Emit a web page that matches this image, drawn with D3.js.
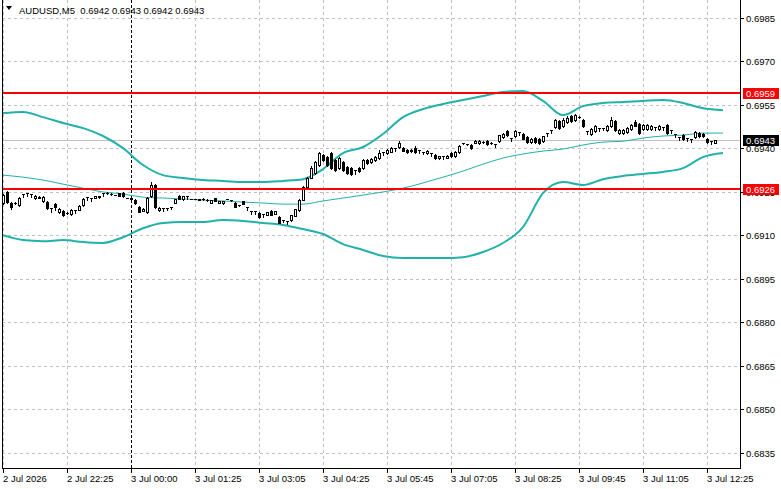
<!DOCTYPE html>
<html>
<head>
<meta charset="utf-8">
<script src="https://cdn.jsdelivr.net/npm/d3@7"></script>
<style>
    body { margin: 0; background: #fff; }
    svg { display: block; }
    text { font-family: "Liberation Sans", Arial, sans-serif; font-size: 9.5px; }
</style>
</head>
<body>
<div id="chart"></div>
<script>
// AUDUSD M5 bars (oldest first)
const opens = [
    0.69212,0.69250,0.69212,0.69212,0.69205,0.69243,0.69246,0.69243,0.69229,0.69229,
    0.69219,0.69215,0.69194,0.69208,0.69181,0.69184,0.69177,0.69174,0.69188,0.69188,
    0.69205,0.69232,0.69229,0.69229,0.69232,0.69246,0.69246,0.69243,0.69239,0.69246,
    0.69246,0.69229,0.69229,0.69222,0.69198,0.69184,0.69181,0.69236,0.69274,0.69188,
    0.69194,0.69194,0.69198,0.69212,0.69236,0.69226,0.69236,0.69226,0.69226,0.69222,
    0.69226,0.69222,0.69212,0.69229,0.69212,0.69212,0.69226,0.69222,0.69212,0.69205,
    0.69219,0.69198,0.69184,0.69184,0.69177,0.69174,0.69170,0.69184,0.69174,0.69163,
    0.69153,0.69150,0.69153,0.69167,0.69188,0.69222,0.69267,0.69298,0.69315,0.69343,
    0.69377,0.69370,0.69384,0.69360,0.69332,0.69353,0.69336,0.69332,0.69326,0.69332,
    0.69332,0.69360,0.69353,0.69360,0.69367,0.69388,0.69384,0.69388,0.69401,0.69405,
    0.69401,0.69395,0.69391,0.69401,0.69395,0.69388,0.69384,0.69384,0.69377,0.69367,
    0.69374,0.69367,0.69384,0.69374,0.69388,0.69419,0.69415,0.69412,0.69419,0.69419,
    0.69422,0.69425,0.69419,0.69415,0.69425,0.69439,0.69460,0.69436,0.69443,0.69457,
    0.69450,0.69439,0.69422,0.69436,0.69432,0.69425,0.69453,0.69464,0.69474,0.69495,
    0.69477,0.69491,0.69512,0.69498,0.69508,0.69498,0.69460,0.69450,0.69460,0.69470,
    0.69470,0.69464,0.69477,0.69495,0.69453,0.69453,0.69457,0.69467,0.69491,0.69484,
    0.69467,0.69467,0.69467,0.69474,0.69467,0.69474,0.69481,0.69464,0.69450,0.69439,
    0.69446,0.69436,0.69432,0.69439,0.69453,0.69450,0.69432,0.69425,0.69420
];
const highs = [
    0.69243,0.69253,0.69215,0.69215,0.69232,0.69243,0.69246,0.69243,0.69239,0.69236,
    0.69236,0.69219,0.69194,0.69212,0.69194,0.69188,0.69181,0.69191,0.69188,0.69205,
    0.69229,0.69232,0.69229,0.69236,0.69236,0.69246,0.69250,0.69246,0.69239,0.69246,
    0.69250,0.69229,0.69229,0.69226,0.69201,0.69194,0.69232,0.69284,0.69277,0.69198,
    0.69194,0.69194,0.69198,0.69226,0.69239,0.69236,0.69236,0.69226,0.69226,0.69226,
    0.69229,0.69226,0.69222,0.69229,0.69219,0.69219,0.69226,0.69222,0.69215,0.69205,
    0.69219,0.69198,0.69184,0.69184,0.69181,0.69174,0.69181,0.69188,0.69184,0.69167,
    0.69153,0.69150,0.69170,0.69191,0.69226,0.69270,0.69301,0.69339,0.69357,0.69388,
    0.69381,0.69374,0.69388,0.69363,0.69370,0.69357,0.69339,0.69336,0.69326,0.69336,
    0.69363,0.69363,0.69367,0.69374,0.69395,0.69388,0.69398,0.69405,0.69401,0.69425,
    0.69405,0.69398,0.69398,0.69408,0.69395,0.69388,0.69395,0.69384,0.69381,0.69374,
    0.69374,0.69377,0.69388,0.69391,0.69412,0.69419,0.69415,0.69415,0.69429,0.69429,
    0.69425,0.69429,0.69422,0.69415,0.69446,0.69453,0.69464,0.69436,0.69464,0.69457,
    0.69453,0.69443,0.69436,0.69439,0.69436,0.69443,0.69453,0.69464,0.69501,0.69498,
    0.69505,0.69512,0.69515,0.69519,0.69512,0.69501,0.69460,0.69470,0.69481,0.69470,
    0.69470,0.69481,0.69508,0.69498,0.69467,0.69467,0.69474,0.69484,0.69498,0.69488,
    0.69484,0.69484,0.69481,0.69474,0.69481,0.69474,0.69484,0.69464,0.69450,0.69439,
    0.69450,0.69436,0.69432,0.69460,0.69457,0.69453,0.69436,0.69425,0.69430
];
const lows = [
    0.69208,0.69212,0.69191,0.69208,0.69201,0.69232,0.69236,0.69232,0.69226,0.69229,
    0.69215,0.69191,0.69181,0.69188,0.69177,0.69167,0.69174,0.69170,0.69177,0.69188,
    0.69201,0.69222,0.69219,0.69229,0.69229,0.69236,0.69243,0.69239,0.69239,0.69236,
    0.69232,0.69229,0.69226,0.69208,0.69181,0.69184,0.69177,0.69232,0.69194,0.69184,
    0.69184,0.69188,0.69191,0.69212,0.69226,0.69222,0.69226,0.69226,0.69226,0.69222,
    0.69222,0.69219,0.69212,0.69219,0.69212,0.69208,0.69226,0.69219,0.69198,0.69201,
    0.69208,0.69188,0.69174,0.69174,0.69160,0.69163,0.69170,0.69170,0.69174,0.69143,
    0.69146,0.69139,0.69150,0.69167,0.69184,0.69222,0.69263,0.69298,0.69312,0.69339,
    0.69357,0.69339,0.69329,0.69322,0.69329,0.69322,0.69312,0.69308,0.69312,0.69319,
    0.69329,0.69346,0.69350,0.69357,0.69363,0.69377,0.69381,0.69388,0.69391,0.69401,
    0.69391,0.69384,0.69388,0.69384,0.69384,0.69381,0.69381,0.69374,0.69363,0.69363,
    0.69363,0.69367,0.69370,0.69370,0.69384,0.69415,0.69412,0.69398,0.69419,0.69415,
    0.69419,0.69412,0.69415,0.69405,0.69422,0.69436,0.69443,0.69425,0.69439,0.69446,
    0.69432,0.69419,0.69419,0.69419,0.69415,0.69422,0.69443,0.69453,0.69470,0.69467,
    0.69474,0.69488,0.69491,0.69495,0.69505,0.69474,0.69450,0.69446,0.69457,0.69460,
    0.69464,0.69460,0.69474,0.69460,0.69450,0.69450,0.69453,0.69464,0.69477,0.69450,
    0.69464,0.69464,0.69464,0.69464,0.69464,0.69464,0.69450,0.69453,0.69439,0.69429,
    0.69429,0.69425,0.69422,0.69436,0.69439,0.69439,0.69419,0.69415,0.69420
];
const closes = [
    0.69239,0.69215,0.69198,0.69212,0.69229,0.69243,0.69246,0.69243,0.69236,0.69232,
    0.69232,0.69194,0.69194,0.69198,0.69191,0.69170,0.69177,0.69188,0.69188,0.69201,
    0.69226,0.69232,0.69229,0.69236,0.69236,0.69246,0.69246,0.69243,0.69239,0.69236,
    0.69236,0.69229,0.69226,0.69212,0.69181,0.69191,0.69229,0.69274,0.69198,0.69194,
    0.69194,0.69194,0.69198,0.69226,0.69226,0.69236,0.69236,0.69226,0.69226,0.69226,
    0.69226,0.69222,0.69222,0.69219,0.69219,0.69219,0.69226,0.69222,0.69198,0.69205,
    0.69208,0.69198,0.69184,0.69184,0.69163,0.69174,0.69181,0.69170,0.69184,0.69143,
    0.69153,0.69150,0.69170,0.69191,0.69222,0.69267,0.69298,0.69332,0.69353,0.69384,
    0.69360,0.69343,0.69332,0.69326,0.69367,0.69326,0.69315,0.69312,0.69326,0.69322,
    0.69360,0.69350,0.69363,0.69370,0.69384,0.69388,0.69395,0.69401,0.69401,0.69419,
    0.69391,0.69388,0.69395,0.69388,0.69395,0.69388,0.69391,0.69384,0.69367,0.69374,
    0.69374,0.69374,0.69374,0.69388,0.69408,0.69419,0.69415,0.69401,0.69425,0.69425,
    0.69422,0.69415,0.69419,0.69415,0.69446,0.69450,0.69446,0.69436,0.69460,0.69457,
    0.69432,0.69422,0.69432,0.69422,0.69419,0.69443,0.69453,0.69464,0.69498,0.69470,
    0.69498,0.69505,0.69495,0.69515,0.69508,0.69477,0.69460,0.69467,0.69477,0.69470,
    0.69470,0.69477,0.69498,0.69464,0.69464,0.69464,0.69470,0.69481,0.69477,0.69453,
    0.69481,0.69481,0.69477,0.69474,0.69477,0.69474,0.69453,0.69464,0.69450,0.69439,
    0.69432,0.69436,0.69432,0.69457,0.69443,0.69443,0.69422,0.69425,0.69430
];

// Bollinger bands, sampled every 5 bars
const bandBars = [0,5,10,15,20,25,30,35,40,45,50,55,60,65,70,75,80,85,90,95,
    100,105,110,115,120,125,130,135,140,145,150,155,160,165,170,175,180];
const bandUpper = [
    0.69522,0.69526,0.69508,0.69488,0.69470,0.69443,0.69401,0.69343,0.69308,0.69298,
    0.69291,0.69288,0.69284,0.69284,0.69288,0.69294,0.69329,0.69384,0.69405,0.69450,
    0.69508,0.69536,0.69553,0.69567,0.69581,0.69595,0.69598,0.69564,0.69515,0.69546,
    0.69557,0.69560,0.69564,0.69567,0.69557,0.69539,0.69532
];
const bandMiddle = [
    0.69308,0.69301,0.69291,0.69277,0.69263,0.69250,0.69243,0.69232,0.69229,0.69226,
    0.69222,0.69219,0.69215,0.69212,0.69208,0.69208,0.69219,0.69229,0.69239,0.69250,
    0.69263,0.69281,0.69301,0.69322,0.69346,0.69367,0.69381,0.69391,0.69398,0.69412,
    0.69422,0.69425,0.69436,0.69443,0.69446,0.69453,0.69453
];
const bandLower = [
    0.69101,0.69084,0.69080,0.69084,0.69077,0.69074,0.69094,0.69125,0.69143,0.69146,
    0.69146,0.69153,0.69150,0.69143,0.69136,0.69122,0.69105,0.69070,0.69050,0.69029,
    0.69022,0.69022,0.69022,0.69025,0.69043,0.69074,0.69129,0.69246,0.69284,0.69274,
    0.69294,0.69305,0.69312,0.69319,0.69332,0.69370,0.69384
];

// Axes
const priceTicks = [0.6985, 0.6970, 0.6955, 0.6940, 0.6925, 0.6910, 0.6895,
    0.6880, 0.6865, 0.6850, 0.6835];
const timeTickBars = [0, 16, 32, 48, 64, 80, 96, 112, 128, 144, 160, 176];
const timeTickLabels = ['2 Jul 2026', '2 Jul 22:25', '3 Jul 00:00', '3 Jul 01:25',
    '3 Jul 03:05', '3 Jul 04:25', '3 Jul 05:45', '3 Jul 07:05', '3 Jul 08:25',
    '3 Jul 09:45', '3 Jul 11:05', '3 Jul 12:25'];
const daySeparatorBar = 32;

// Horizontal levels
const levelPrices = [0.6959, 0.6926];
const bidPrice = 0.6943;
const titleText = 'AUDUSD,M5  0.6942 0.6943 0.6942 0.6943';

class CandleChart {
    constructor(selector) {
        this.selector = selector;
        this.width = 781;
        this.height = 489;
        this.plot = { left: 2, right: 740, top: 0, bottom: 468 };
        this.colors = {
            grid: '#c0c0c0',
            band: '#20b2aa',
            level: '#ff0000',
            bid: '#c0c0c0'
        };
        this.initVis();
    }

    initVis() {
        let vis = this;
        vis.svg = d3.select(vis.selector).append('svg')
            .attr('width', vis.width)
            .attr('height', vis.height)
            .attr('shape-rendering', 'crispEdges');

        vis.x = d3.scaleLinear().domain([0, 184]).range([3, 739]);
        vis.y = d3.scaleLinear().domain([0.68298, 0.69912]).range([vis.plot.bottom, vis.plot.top]);

        vis.drawGrid();
        vis.drawBands();
        vis.drawCandles();
        vis.drawLevels();
        vis.drawAxes();
    }

    px(v) { return Math.round(v) + 0.5; }

    drawGrid() {
        let vis = this;
        const g = vis.svg.append('g');

        g.selectAll('line.hgrid').data(priceTicks).enter().append('line')
            .attr('x1', vis.plot.left).attr('x2', vis.plot.right)
            .attr('y1', d => vis.px(vis.y(d))).attr('y2', d => vis.px(vis.y(d)))
            .style('stroke', vis.colors.grid)
            .style('stroke-dasharray', '3,3');

        g.selectAll('line.vgrid').data(timeTickBars.filter(d => d !== daySeparatorBar)).enter().append('line')
            .attr('x1', d => vis.px(vis.x(d))).attr('x2', d => vis.px(vis.x(d)))
            .attr('y1', vis.plot.top).attr('y2', vis.plot.bottom)
            .style('stroke', vis.colors.grid)
            .style('stroke-dasharray', '3,3');

        // day separator
        g.append('line')
            .attr('x1', vis.px(vis.x(daySeparatorBar))).attr('x2', vis.px(vis.x(daySeparatorBar)))
            .attr('y1', vis.plot.top).attr('y2', vis.plot.bottom)
            .style('stroke', '#000')
            .style('stroke-dasharray', '3,2');

        // bid line
        g.append('line')
            .attr('x1', vis.plot.left).attr('x2', vis.plot.right)
            .attr('y1', vis.px(vis.y(bidPrice))).attr('y2', vis.px(vis.y(bidPrice)))
            .style('stroke', vis.colors.bid);
    }

    drawBands() {
        let vis = this;
        const line = d3.line()
            .x((d, i) => vis.x(bandBars[i]))
            .y(d => vis.y(d))
            .curve(d3.curveMonotoneX);

        const g = vis.svg.append('g').attr('shape-rendering', 'auto');
        [[bandUpper, 2], [bandLower, 2], [bandMiddle, 1]].forEach(([vals, w]) => {
            g.append('path')
                .attr('d', line(vals))
                .style('fill', 'none')
                .style('stroke', vis.colors.band)
                .style('stroke-width', w);
        });
    }

    drawCandles() {
        let vis = this;
        const g = vis.svg.append('g');

        opens.forEach((o, i) => {
            const cx = Math.round(vis.x(i));
            const yo = Math.round(vis.y(o));
            const yc = Math.round(vis.y(closes[i]));
            const yh = Math.round(vis.y(highs[i]));
            const yl = Math.round(vis.y(lows[i]));
            const top = Math.min(yo, yc);
            const bot = Math.max(yo, yc);

            // wick
            g.append('rect')
                .attr('x', cx).attr('y', yh)
                .attr('width', 1).attr('height', yl - yh + 1)
                .style('fill', '#000');

            // body
            g.append('rect')
                .attr('x', cx - 1).attr('y', top)
                .attr('width', 3).attr('height', bot - top + 1)
                .style('fill', '#000');

            if (closes[i] > o && bot - top >= 2) {
                g.append('rect')
                    .attr('x', cx).attr('y', top + 1)
                    .attr('width', 1).attr('height', bot - top - 1)
                    .style('fill', '#fff');
            }
        });
    }

    drawLevels() {
        let vis = this;
        const g = vis.svg.append('g');
        g.selectAll('rect.level').data(levelPrices).enter().append('rect')
            .attr('x', vis.plot.left)
            .attr('y', d => Math.round(vis.y(d)) - 1)
            .attr('width', vis.plot.right - vis.plot.left)
            .attr('height', 2)
            .style('fill', vis.colors.level);
    }

    drawAxes() {
        let vis = this;
        const g = vis.svg.append('g');

        // frame
        g.append('line')
            .attr('x1', vis.plot.left + 0.5).attr('x2', vis.plot.left + 0.5)
            .attr('y1', vis.plot.top).attr('y2', vis.plot.bottom + 1)
            .style('stroke', '#000');
        g.append('line')
            .attr('x1', vis.plot.right + 0.5).attr('x2', vis.plot.right + 0.5)
            .attr('y1', vis.plot.top).attr('y2', vis.plot.bottom + 1)
            .style('stroke', '#000');
        g.append('line')
            .attr('x1', vis.plot.left).attr('x2', vis.plot.right + 1)
            .attr('y1', vis.plot.bottom + 0.5).attr('y2', vis.plot.bottom + 0.5)
            .style('stroke', '#000');

        // price ticks
        priceTicks.forEach(t => {
            const yy = Math.round(vis.y(t));
            g.append('line')
                .attr('x1', vis.plot.right).attr('x2', vis.plot.right + 4)
                .attr('y1', yy + 0.5).attr('y2', yy + 0.5)
                .style('stroke', '#000');
            g.append('text')
                .attr('x', vis.plot.right + 6)
                .attr('y', yy + 4)
                .style('fill', '#000')
                .text(t.toFixed(4));
        });

        // time ticks
        timeTickBars.forEach((b, i) => {
            const xx = Math.round(vis.x(b));
            g.append('line')
                .attr('x1', xx + 0.5).attr('x2', xx + 0.5)
                .attr('y1', vis.plot.bottom).attr('y2', vis.plot.bottom + 5)
                .style('stroke', '#000');
            g.append('text')
                .attr('x', xx)
                .attr('y', vis.plot.bottom + 14)
                .style('fill', '#000')
                .text(timeTickLabels[i]);
        });

        // price boxes on the right scale
        const boxes = levelPrices.map(p => ({ p, fill: vis.colors.level }))
            .concat([{ p: bidPrice, fill: '#000' }]);
        boxes.forEach(b => {
            const yy = Math.round(vis.y(b.p));
            g.append('rect')
                .attr('x', vis.plot.right + 3).attr('y', yy - 5)
                .attr('width', 36).attr('height', 11)
                .style('fill', b.fill);
            g.append('text')
                .attr('x', vis.plot.right + 6)
                .attr('y', yy + 4)
                .style('fill', '#fff')
                .text(b.p.toFixed(4));
        });

        // title
        g.append('path')
            .attr('d', 'M6,6L12,6L9,10Z')
            .attr('shape-rendering', 'auto')
            .style('fill', '#000');
        g.append('text')
            .attr('x', 19).attr('y', 14)
            .style('fill', '#000')
            .style('white-space', 'pre')
            .text(titleText);
    }
}

new CandleChart('#chart');
</script>
</body>
</html>
